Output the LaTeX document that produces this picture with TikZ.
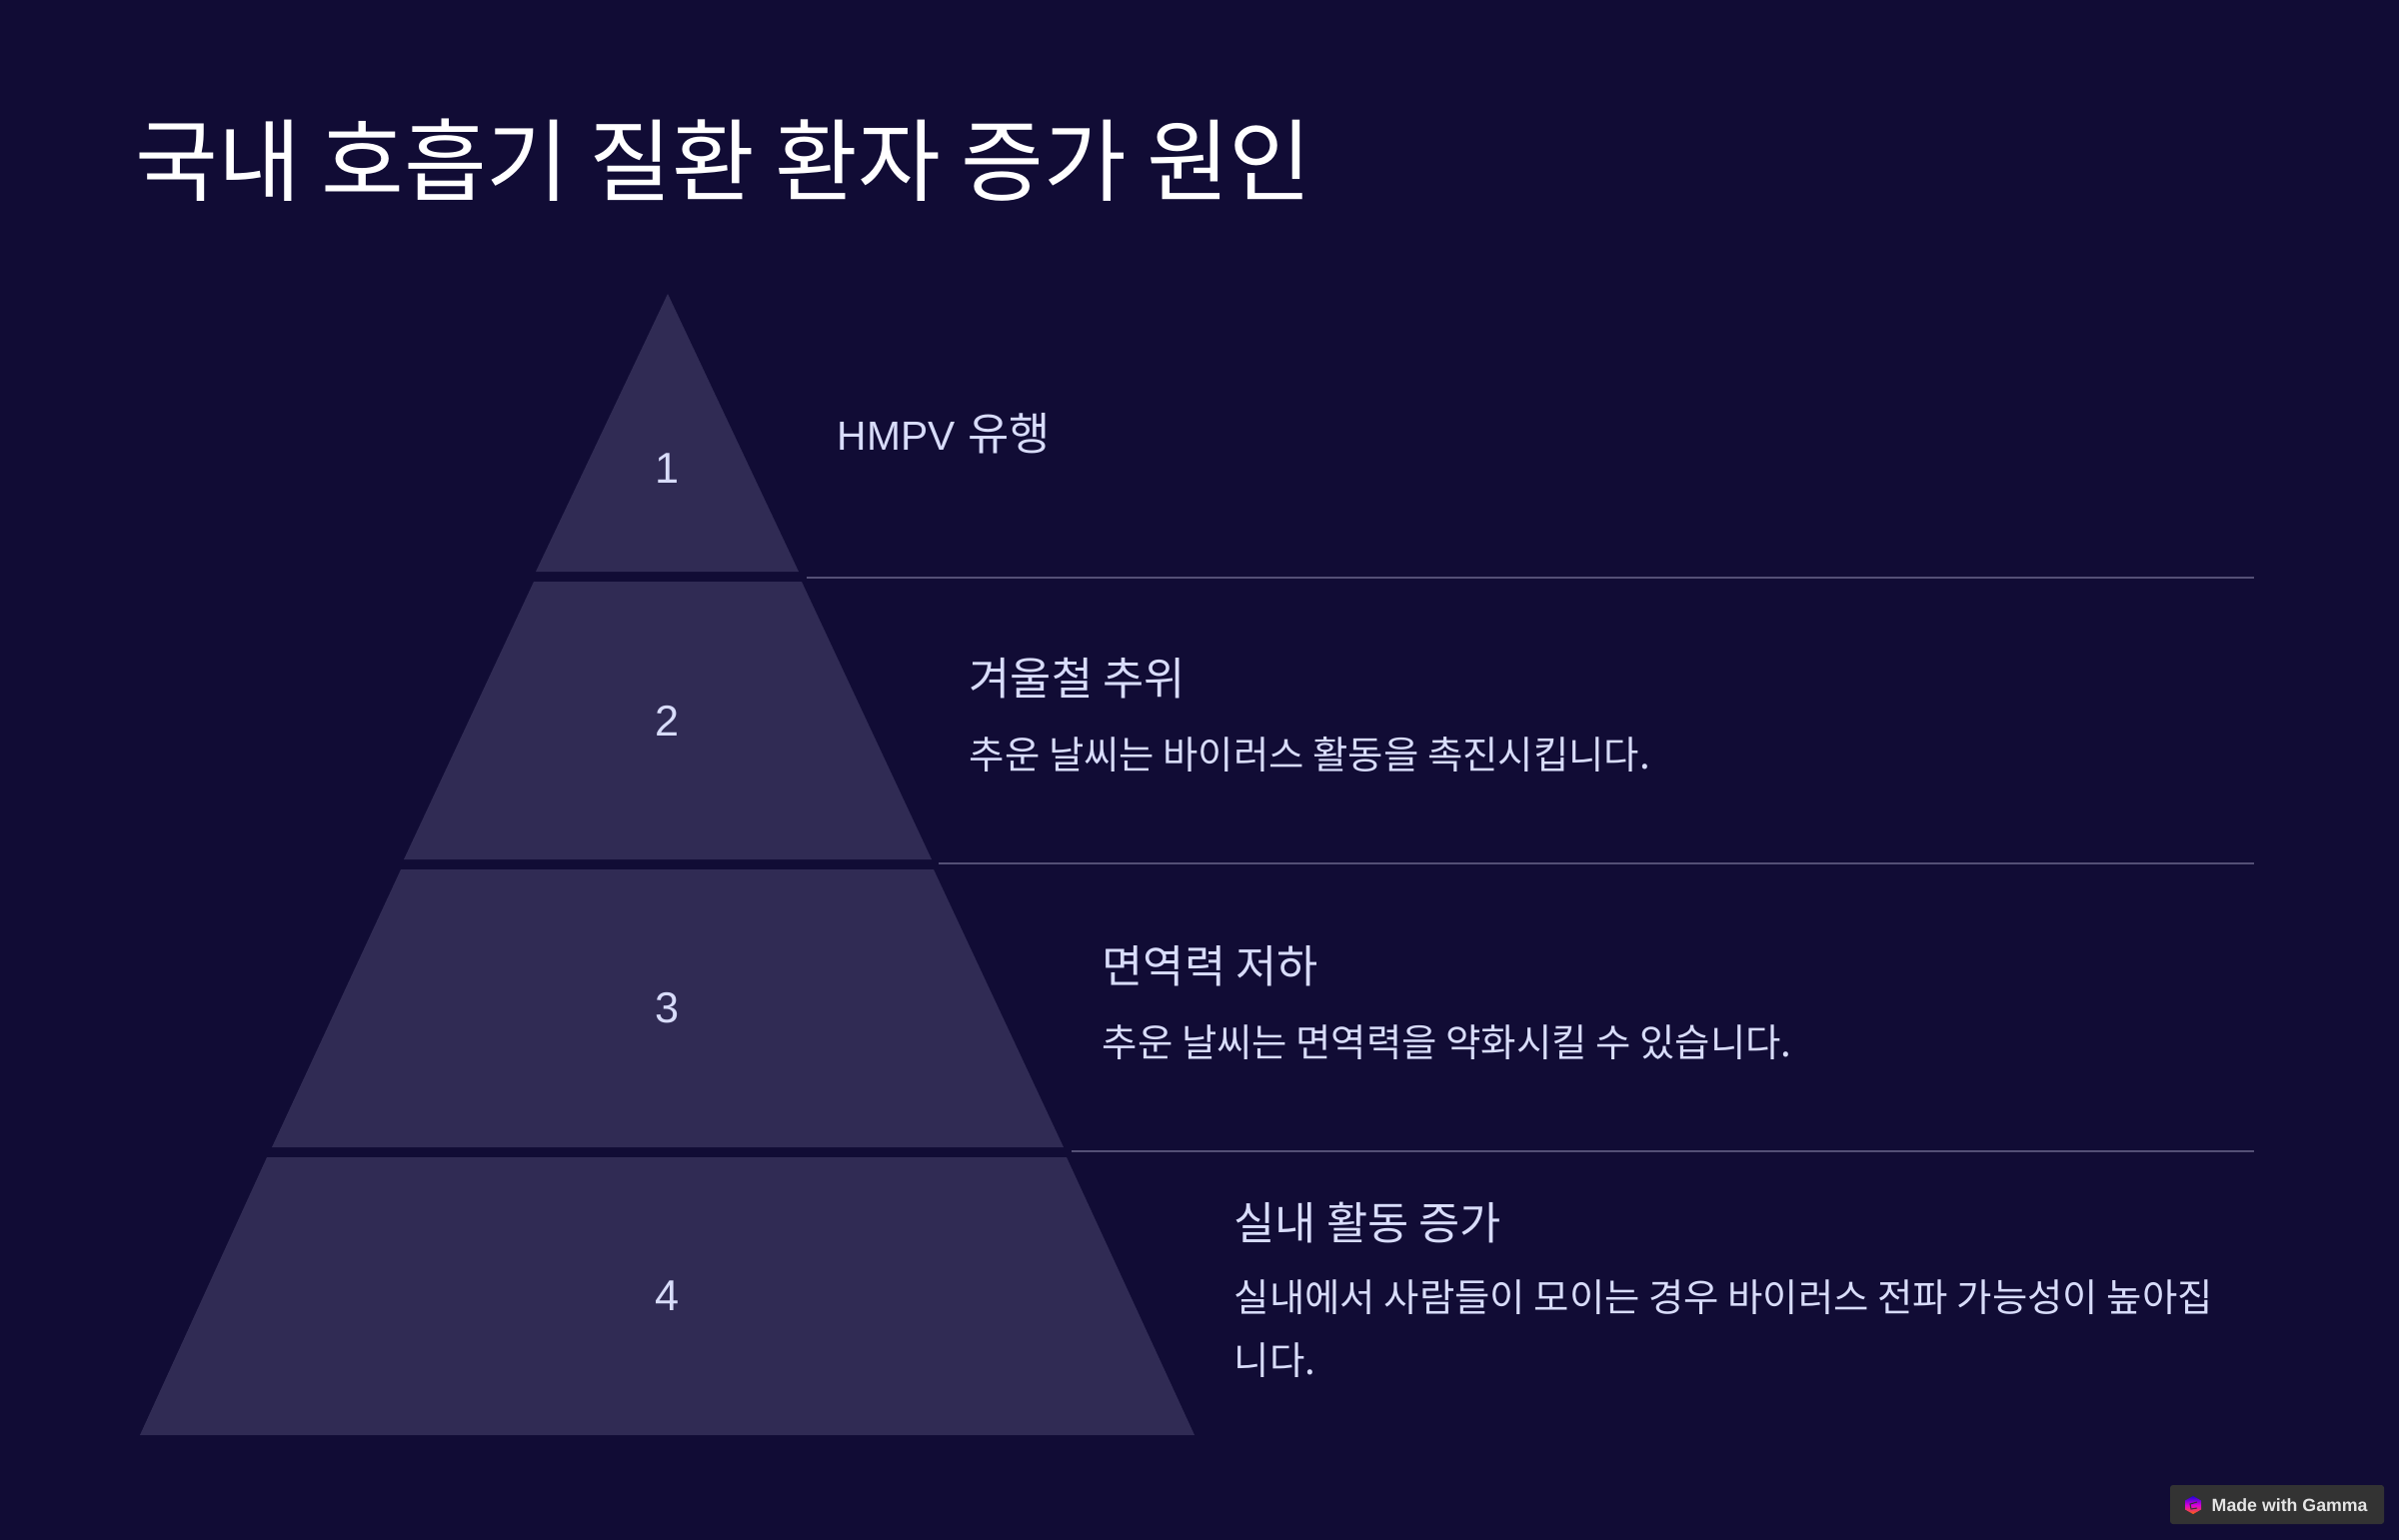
\documentclass[tikz,border=0pt]{standalone}
\usepackage{fontspec}
\setmainfont{Noto Sans CJK KR}
\newfontfamily\latinfont{Liberation Sans}
\definecolor{bgnavy}{RGB}{17,12,53}
\definecolor{layerfill}{RGB}{48,43,84}
\definecolor{paletext}{RGB}{216,220,250}
\definecolor{sepgray}{RGB}{84,80,118}
\definecolor{badgefill}{RGB}{51,51,51}
\tikzset{
  layer/.style = {fill = layerfill},
  sepline/.style = {draw = sepgray, line width = 0.5pt},
  titletext/.style = {white, anchor = west, inner sep = 0, font = \fontsize{25.6}{30}\selectfont},
  numtext/.style = {paletext, inner sep = 0, font = \latinfont\fontsize{12.3}{15}\selectfont},
  headtext/.style = {paletext, anchor = west, inner sep = 0, font = \fontsize{12.75}{16}\selectfont},
  bodytext/.style = {paletext, anchor = west, inner sep = 0, align = left, font = \fontsize{10.93}{17.9}\selectfont},
}
\begin{document}
\begin{tikzpicture}[x = 0.1mm, y = -0.1mm]
\useasboundingbox (0,0) rectangle (2400,1540);
\fill[bgnavy] (-10,-10) rectangle (2410,1550);
\node[titletext] (title) at (135,160) {국내 호흡기 질환 환자 증가 원인};
% pyramid layers
\fill[layer] (668,294) -- (799,572) -- (536,572) -- cycle;
\fill[layer] (534,582) -- (802,582) -- (932,860) -- (404,860) -- cycle;
\fill[layer] (401,870) -- (934,870) -- (1064,1148) -- (272,1148) -- cycle;
\fill[layer] (267,1158) -- (1067,1158) -- (1195,1436) -- (140,1436) -- cycle;
\draw[sepline] (807,578) -- (2255,578);
\draw[sepline] (939,864) -- (2255,864);
\draw[sepline] (1072,1152) -- (2255,1152);
\node[numtext] (num1) at (668,469) {1};
\node[numtext] (num2) at (668,721) {2};
\node[numtext] (num3) at (668,1009) {3};
\node[numtext] (num4) at (668,1297) {4};
\node[headtext] (head1) at (837,434) {{\latinfont\fontsize{11.6}{16}\selectfont HMPV}\hspace{0.8pt} 유행};
\node[headtext] (head2) at (969,679) {겨울철 추위};
\node[bodytext] (body2) at (969,755) {추운 날씨는 바이러스 활동을 촉진시킵니다.};
\node[headtext] (head3) at (1102,967) {면역력 저하};
\node[bodytext] (body3) at (1102,1043) {추운 날씨는 면역력을 약화시킬 수 있습니다.};
\node[headtext] (head4) at (1234,1224) {실내 활동 증가};
\node[bodytext] (body4) at (1234,1330) {실내에서 사람들이 모이는 경우 바이러스 전파 가능성이 높아집\\니다.};
% badge
\fill[badgefill, rounded corners = 0.8pt] (2171,1486) rectangle (2385,1525);
\shade[top color = blue!70!violet, bottom color = orange!80!red, middle color = magenta!70!violet] (2194,1497) -- (2202,1501.5) -- (2202,1510.5) -- (2194,1515) -- (2186,1510.5) -- (2186,1501.5) -- cycle;
\draw[badgefill, line width = 0.3pt] (2198,1503) -- (2191,1505) -- (2192,1510) -- (2198,1509);
\node[white!90!black, anchor = west, inner sep = 0, font = \latinfont\bfseries\fontsize{5.05}{6}\selectfont] (badge) at (2212,1506) {Made with Gamma};
\end{tikzpicture}
\end{document}
